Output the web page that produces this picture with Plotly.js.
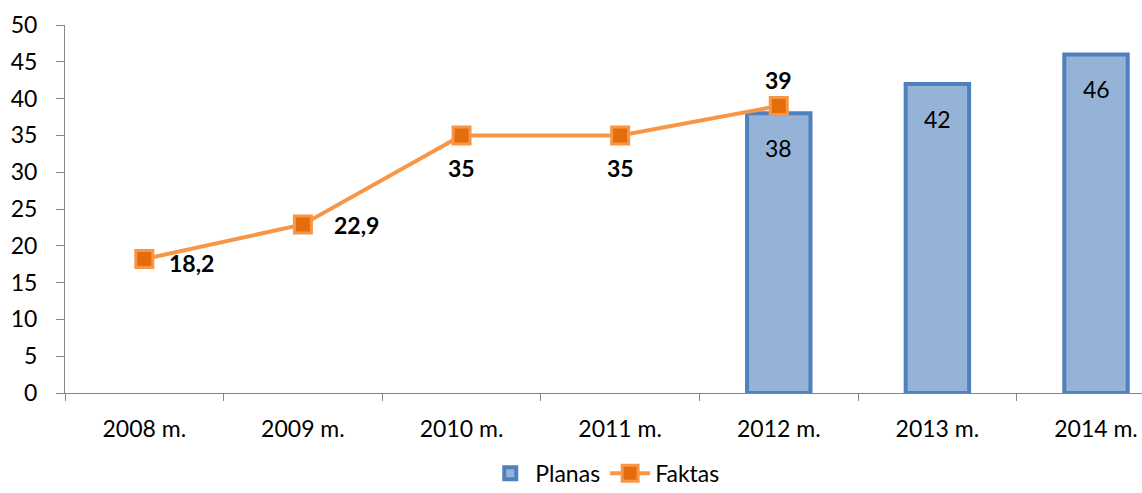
<!DOCTYPE html>
<html><head><meta charset="utf-8">
<script src="https://cdn.plot.ly/plotly-3.0.1.min.js"></script>
<style>html,body{margin:0;padding:0;background:#fff;}#chart{width:1142px;height:493px;}</style>
</head><body><div id="chart"></div>
<script>
const categories = ['2008 m.','2009 m.','2010 m.','2011 m.','2012 m.','2013 m.','2014 m.'];
const planas = [null,null,null,null,38,42,46];
const faktas = [18.2,22.9,35,35,39,null,null];
const yTicks = [0,5,10,15,20,25,30,35,40,45,50];

// label placement (style, pixel shifts)
const faktasShift = [[47,-4],[54,-1],[0,-33],[0,-33],[0,26],[0,0],[0,0]];
const planasShift = -35;

const fmt = v => v == null ? '' : String(v).replace('.', ',');
const FONT = 'Lato, "Open Sans", sans-serif';

const traces = [
  {
    type:'bar', name:'Planas', x:categories, y:planas,
    marker:{color:'#95B3D7', line:{color:'#4F81BD', width:4}},
    width:0.4
  },
  {
    type:'scatter', mode:'lines+markers', name:'Faktas', x:categories, y:faktas,
    line:{color:'#F79646', width:4},
    marker:{symbol:'square', size:17, color:'#E46C0A', line:{color:'#F79646', width:3}},
    cliponaxis:false
  }
];

const annotations = [];
faktas.forEach((v,i) => {
  if (v == null) return;
  annotations.push({x:categories[i], y:v, xref:'x', yref:'y', text:fmt(v), showarrow:false,
    xshift:faktasShift[i][0], yshift:faktasShift[i][1],
    font:{family:FONT, size:23, color:'#000', weight:'bold'}});
});
planas.forEach((v,i) => {
  if (v == null) return;
  annotations.push({x:categories[i], y:v, xref:'x', yref:'y', text:fmt(v), showarrow:false,
    yshift:planasShift, font:{family:FONT, size:23, color:'#000'}});
});

const layout = {
  width:1142, height:493,
  margin:{l:65, r:0, t:25, b:100, autoexpand:false},
  paper_bgcolor:'#fff', plot_bgcolor:'#fff',
  font:{family:FONT, size:23, color:'#000'},
  showlegend:true,
  legend:{orientation:'h', x:0.53, xanchor:'center', xref:'container',
          y:0.04, yanchor:'middle', yref:'container',
          font:{family:FONT, size:23, color:'#000'}, itemwidth:40, tracegroupgap:20},
  annotations: annotations,
  xaxis:{
    type:'category', range:[-0.5, 6.29], showgrid:false, automargin:false,
    showline:true, linecolor:'#868686', linewidth:1,
    ticks:'outside', tickson:'boundaries', ticklen:7, tickcolor:'#868686',
    ticklabelstandoff:15, tickfont:{family:FONT, size:23, color:'#000'}
  },
  yaxis:{
    range:[0,50], tickvals:yTicks, showgrid:false, zeroline:false, automargin:false,
    showline:true, linecolor:'#868686', linewidth:1,
    ticks:'outside', ticklen:8, tickcolor:'#868686',
    ticklabelstandoff:14, tickfont:{family:FONT, size:23, color:'#000'}
  }
};

Plotly.newPlot('chart', traces, layout, {displayModeBar:false, staticPlot:true});
</script></body></html>
